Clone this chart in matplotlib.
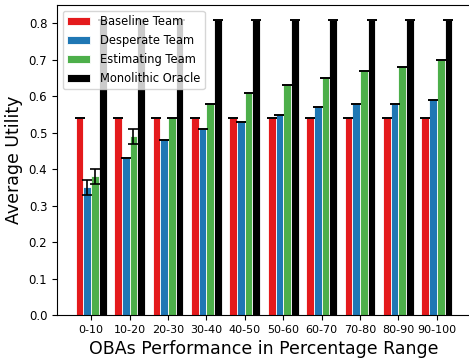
import matplotlib
matplotlib.use("Agg")
import matplotlib.pyplot as plt
import numpy as np

categories = ["0-10", "10-20", "20-30", "30-40", "40-50", "50-60", "60-70", "70-80", "80-90", "90-100"]
baseline = [0.54, 0.54, 0.54, 0.54, 0.54, 0.54, 0.54, 0.54, 0.54, 0.54]
desperate = [0.35, 0.43, 0.48, 0.51, 0.53, 0.55, 0.57, 0.58, 0.58, 0.59]
estimating = [0.38, 0.49, 0.54, 0.58, 0.61, 0.63, 0.65, 0.67, 0.68, 0.70]
oracle = [0.81] * 10
baseline_err = [0.0] * 10
desperate_err = [0.02, 0.0, 0.0, 0.0, 0.0, 0.0, 0.0, 0.0, 0.0, 0.0]
estimating_err = [0.02, 0.02, 0.0, 0.0, 0.0, 0.0, 0.0, 0.0, 0.0, 0.0]
oracle_err = [0.0] * 10

series = [
    ("Baseline Team", baseline, baseline_err, "#e41a1c"),
    ("Desperate Team", desperate, desperate_err, "#1f77b4"),
    ("Estimating Team", estimating, estimating_err, "#4daf4a"),
    ("Monolithic Oracle", oracle, oracle_err, "#000000"),
]

fig = plt.figure(figsize=(4.69, 3.6), dpi=100)
ax = fig.add_axes([57 / 469, 45 / 360, 414 / 469, 310 / 360])

x = np.arange(len(categories))
w = 0.2
for i, (name, vals, err, col) in enumerate(series):
    ax.bar(x + (i - 1.5) * w, vals, w, yerr=err, capsize=3.5, color=col,
           edgecolor="white", linewidth=0.6, label=name,
           error_kw=dict(ecolor="black", elinewidth=1.2, capthick=1.2))

ax.set_xticks(x)
ax.set_xticklabels(categories, fontsize=8)
ax.tick_params(axis="y", labelsize=8.5)
ax.set_xlabel("OBAs Performance in Percentage Range", fontsize=12.5)
ax.set_ylabel("Average Utility", fontsize=12.5)
ax.legend(loc="upper left", fontsize=8.3)

fig.savefig("out.png", dpi=100)
